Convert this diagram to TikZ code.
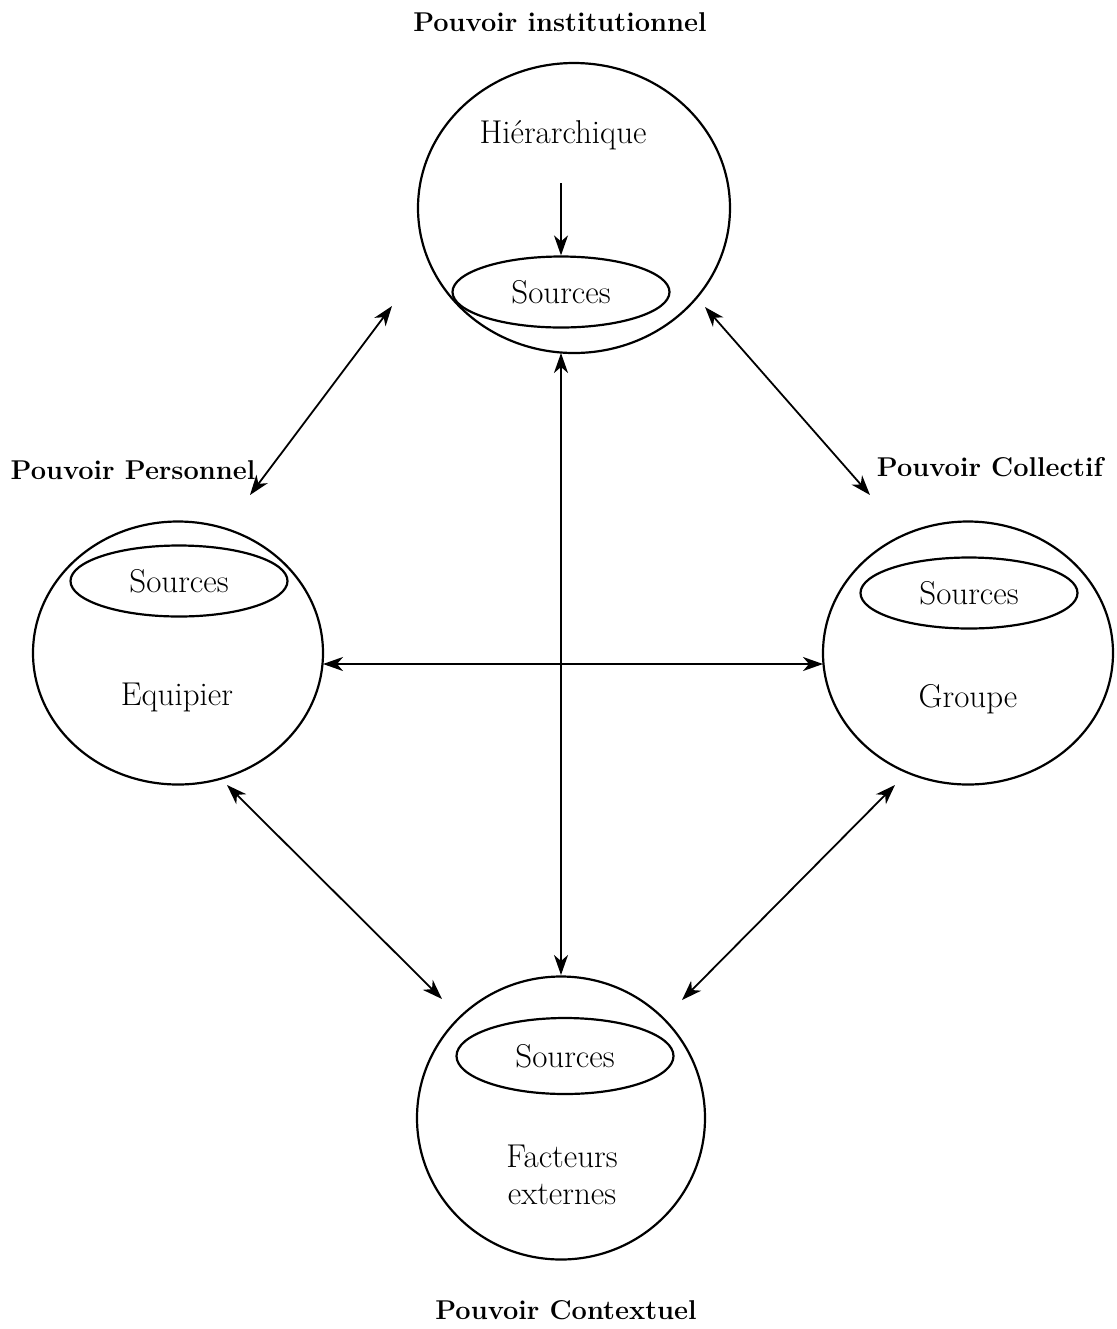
\documentclass[tikz,border=0pt]{standalone}
\usetikzlibrary{arrows.meta, shapes.geometric}
\tikzset{
		pole/.style={draw,ellipse,line width=1.1pt,inner sep=0pt},
		sources/.style={draw,ellipse,line width=1.1pt,minimum width=108.5pt,minimum height=35.5pt,inner sep=0pt,font=\fontsize{16.5}{19}\selectfont},
		title/.style={font=\fontsize{13.6}{16}\selectfont\bfseries},
		inside/.style={font=\fontsize{16.5}{18.5}\selectfont,align=center}
	}
\begin{document}
\begin{tikzpicture}[x=0.5pt,y=-0.5pt,>={Stealth[length=10pt,width=7pt,inset=3pt]},line width=0.9pt]
				\useasboundingbox (0,0) rectangle (1116,1329);

				\node[pole,minimum width=156pt,minimum height=145pt]   (hier)   at (574,208)  {};
				\node[pole,minimum width=145pt,minimum height=131.5pt] (equip)  at (178,653)  {};
				\node[pole,minimum width=145pt,minimum height=131.5pt] (groupe) at (968,653)  {};
				\node[pole,minimum width=144pt,minimum height=141.5pt] (fact)   at (561,1118) {};

				\node[sources]                 (srcH)  at (561,292)  {Sources};
				\node[sources]                 (srcE)  at (179,581)  {Sources};
				\node[sources]                 (srcG)  at (969,593)  {Sources};
				\node[sources,minimum height=38pt] (srcF) at (565,1056) {Sources};

				\node[inside]                  (tHier)  at (563,135)  {Hiérarchique};
				\node[inside]                  (tEquip) at (177,697)  {Equipier};
				\node[inside]                  (tGroup) at (968,699)  {Groupe};
				\node[inside]                  (tFact)  at (562,1175) {Facteurs\\externes};

				\node[title]                   (pInst)  at (560,22)   {Pouvoir institutionnel};
				\node[title]                   (pPers)  at (133,470)  {Pouvoir Personnel};
				\node[title]                   (pColl)  at (990,467)  {Pouvoir Collectif};
				\node[title]                   (pCont)  at (566,1310) {Pouvoir Contextuel};

				% bouts des fleches
				\coordinate (hTop)  at (561,183);
				\coordinate (hBot)  at (561,353);
				\coordinate (fTop)  at (561,975);
				\coordinate (eR)    at (323,664);
				\coordinate (gL)    at (823,664);
				\coordinate (hL)    at (392,306);
				\coordinate (eT)    at (250,495);
				\coordinate (hR)    at (705,307);
				\coordinate (gT)    at (870,495);
				\coordinate (eB)    at (227,785);
				\coordinate (fL)    at (442,999);
				\coordinate (gB)    at (895,785);
				\coordinate (fR)    at (682,1000);

				\path[->]  (hTop) edge (srcH.north);
				\path[<->] (hBot) edge (fTop);
				\path[<->] (eR)   edge (gL);
				\path[<->] (hL)   edge (eT);
				\path[<->] (hR)   edge (gT);
				\path[<->] (eB)   edge (fL);
				\path[<->] (gB)   edge (fR);
			\end{tikzpicture}
\end{document}
